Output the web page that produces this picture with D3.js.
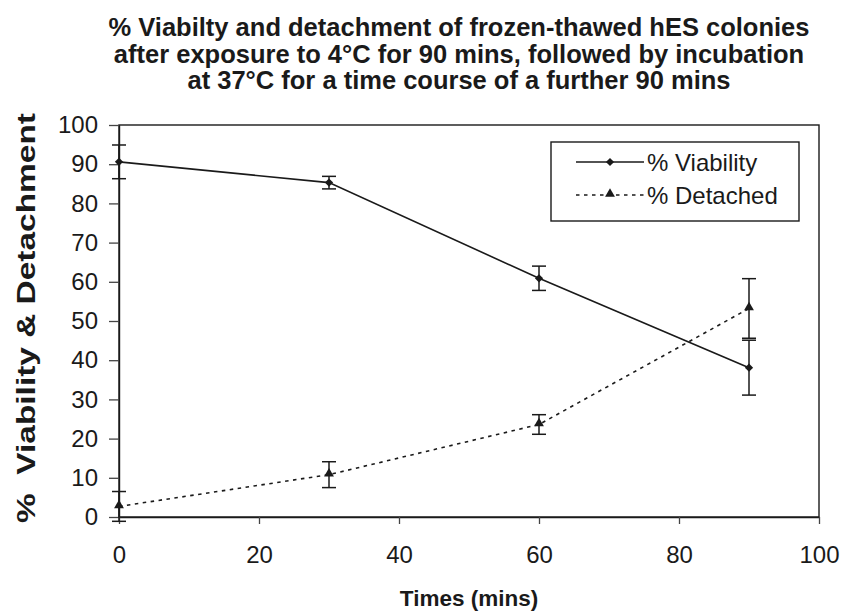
<!DOCTYPE html>
<html><head><meta charset="utf-8">
<script src="https://cdn.jsdelivr.net/npm/d3@7"></script>
<style>body{margin:0;background:#fff}svg{display:block}</style>
</head><body><svg id="c" width="841" height="615"></svg>
<script>
const times = [0, 30, 60, 90];
const viability = [90.6, 85.3, 60.9, 38.1];
const viabilityErr = [4.3, 1.6, 3.1, 7.0];
const detached = [2.7, 10.8, 23.6, 53.2];
const detachedErr = [3.8, 3.3, 2.5, 7.6];
const xTicks = [0, 20, 40, 60, 80, 100];
const yTicks = [0, 10, 20, 30, 40, 50, 60, 70, 80, 90, 100];
const seriesNames = ["% Viability", "% Detached"];
const titleLines = [
  "% Viabilty and detachment of frozen-thawed hES colonies",
  "after exposure to 4\u00B0C for 90 mins, followed by incubation",
  "at 37\u00B0C for a time course of a further 90 mins"
];
const xLabel = "Times (mins)";
const yLabel = "%\u00A0\u00A0Viability & Detachment";

const svg = d3.select("#c");
const font = "'Liberation Sans', Arial, sans-serif";
const L = 119, R = 819, T = 125, B = 517;
const x = d3.scaleLinear().domain([0, 100]).range([L, R]);
const y = d3.scaleLinear().domain([0, 100]).range([B, T]);
const ink = "#1a1a1a";

// Title
const title = svg.append("text").attr("font-family", font).attr("font-weight", "bold")
  .attr("font-size", 25.5).attr("fill", ink).attr("text-anchor", "middle");
titleLines.forEach((t, i) => title.append("tspan").attr("x", 459).attr("y", 36 + i * 26.5).text(t));

// Frame
svg.append("rect").attr("x", L).attr("y", T).attr("width", R - L).attr("height", B - T)
  .attr("fill", "none").attr("stroke", ink).attr("stroke-width", 1.4);

// Axes
const yAxis = svg.append("g").attr("transform", `translate(${L},0)`)
  .call(d3.axisLeft(y).tickValues(yTicks).tickSize(10).tickSizeOuter(0).tickPadding(11));
const xAxis = svg.append("g").attr("transform", `translate(0,${B})`)
  .call(d3.axisBottom(x).tickValues(xTicks).tickSize(7).tickSizeOuter(0).tickPadding(22));
[yAxis, xAxis].forEach(g => {
  g.select(".domain").attr("stroke", ink).attr("stroke-width", 1.4);
  g.selectAll(".tick line").attr("stroke", "#444").attr("stroke-width", 1.3);
  g.selectAll(".tick text").attr("font-family", font).attr("font-size", 24).attr("fill", ink);
});

// Axis labels
svg.append("text").attr("x", 469).attr("y", 606).attr("text-anchor", "middle")
  .attr("font-family", font).attr("font-weight", "bold").attr("font-size", 22.5).attr("fill", ink).text(xLabel);
svg.append("text").attr("transform", "translate(35,318) rotate(-90)").attr("text-anchor", "middle")
  .attr("font-family", font).attr("font-weight", "bold").attr("font-size", 25).attr("fill", ink)
  .attr("textLength", 410).attr("lengthAdjust", "spacingAndGlyphs").text(yLabel);

const line = d3.line().x(d => x(d[0])).y(d => y(d[1]));
const series = [
  {vals: viability, err: viabilityErr, dash: null, sym: "diamond"},
  {vals: detached, err: detachedErr, dash: "3.5,4.5", sym: "triangle"}
];
const diamond = d3.symbol().type(d3.symbolSquare).size(34)();
const triangle = d3.symbol().type(d3.symbolTriangle).size(42)();
function marker(g, sym, cx, cy) {
  if (sym === "diamond") g.append("path").attr("d", diamond).attr("transform", `translate(${cx},${cy}) rotate(45)`).attr("fill", ink);
  else g.append("path").attr("d", triangle).attr("transform", `translate(${cx},${cy - 1})`).attr("fill", ink);
}
series.forEach(s => {
  const pts = times.map((t, i) => [t, s.vals[i]]);
  svg.append("path").attr("d", line(pts)).attr("fill", "none").attr("stroke", ink)
    .attr("stroke-width", 1.6).attr("stroke-dasharray", s.dash);
  const g = svg.append("g");
  times.forEach((t, i) => {
    const cx = x(t), y1 = y(s.vals[i] + s.err[i]), y0 = y(s.vals[i] - s.err[i]);
    g.append("line").attr("x1", cx).attr("x2", cx).attr("y1", y1).attr("y2", y0).attr("stroke", ink).attr("stroke-width", 1.5);
    [y1, y0].forEach(yy => g.append("line").attr("x1", cx - 7).attr("x2", cx + 7).attr("y1", yy).attr("y2", yy).attr("stroke", ink).attr("stroke-width", 1.5));
    marker(g, s.sym, cx, y(s.vals[i]));
  });
});

// Legend
const lg = svg.append("g");
lg.append("rect").attr("x", 551).attr("y", 142).attr("width", 248).attr("height", 79)
  .attr("fill", "#fff").attr("stroke", ink).attr("stroke-width", 1.4);
series.forEach((s, i) => {
  const ly = 162 + i * 33;
  lg.append("line").attr("x1", 576).attr("x2", 644).attr("y1", ly).attr("y2", ly)
    .attr("stroke", ink).attr("stroke-width", 1.6).attr("stroke-dasharray", s.dash);
  marker(lg, s.sym, 610, ly);
  lg.append("text").attr("x", 647).attr("y", ly).attr("dy", "0.36em").attr("font-family", font)
    .attr("font-size", 24).attr("fill", ink).text(seriesNames[i]);
});
</script></body></html>
